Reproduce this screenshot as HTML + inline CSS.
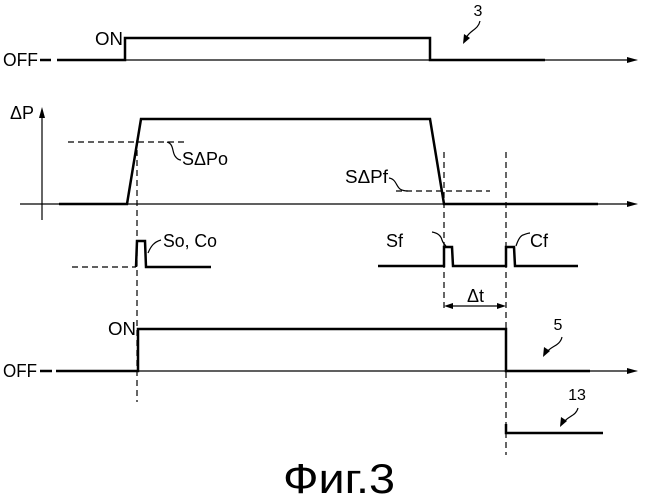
<!DOCTYPE html>
<html><head><meta charset="utf-8"><style>
html,body{margin:0;padding:0;background:#fff;}
svg{display:block;}
text{font-family:"Liberation Sans","DejaVu Sans",sans-serif;fill:#000;}
</style></head><body>
<svg width="646" height="500" viewBox="0 0 646 500" xmlns="http://www.w3.org/2000/svg">
<g fill="none" stroke="#000" stroke-linecap="butt" stroke-linejoin="miter">
<!-- Top signal 3 -->
<line x1="40" y1="60" x2="51" y2="60" stroke-width="2.5"/>
<polyline points="57,60 125,60 125,38 430,38 430,60 545,60" stroke-width="2.5"/>
<line x1="125" y1="60" x2="632" y2="60" stroke-width="1.2"/>
<!-- Delta P axis -->
<line x1="42" y1="220" x2="42" y2="114" stroke-width="1.2"/>
<line x1="20" y1="204" x2="632" y2="204" stroke-width="1.2"/>
<polyline points="59,204 127,204 141,119 430,119 444,204 598,204" stroke-width="2.5"/>
<!-- thresholds -->
<line x1="68" y1="142" x2="186" y2="142" stroke-width="1.2" stroke-dasharray="6,4"/>
<line x1="396" y1="191" x2="490" y2="191" stroke-width="1.2" stroke-dasharray="6,4"/>
<path d="M167,142 C174,144 172,152 175,156 C177,159 179,160 181,160" stroke-width="1.2"/>
<path d="M389,178 C396,179 396,186 400,189 C403,191 406,191 408,191" stroke-width="1.2"/>
<!-- vertical dashed -->
<line x1="137" y1="140" x2="137" y2="402" stroke-width="1.2" stroke-dasharray="6,4"/>
<line x1="444" y1="152" x2="444" y2="310" stroke-width="1.2" stroke-dasharray="6,4"/>
<line x1="506" y1="152" x2="506" y2="455" stroke-width="1.2" stroke-dasharray="6,4"/>
<!-- pulses -->
<line x1="72" y1="267" x2="136" y2="267" stroke-width="1.2" stroke-dasharray="6,4"/>
<polyline points="136,267 137,241 145,241 146,267 211,267" stroke-width="2.5"/>
<path d="M148,253 C151,246 154,242 161,240" stroke-width="1.2"/>
<polyline points="378,266 444,266 444,247 452,247 453,266 506,266 506,247 514,247 515,266 578,266" stroke-width="2.5"/>
<path d="M432,232 C438,233 441,236 442,240 C443,243 445,245 446,246" stroke-width="1.2"/>
<path d="M516,246 C518,240 520,236 523,235 C526,234 528,233 530,233" stroke-width="1.2"/>
<!-- delta t -->
<line x1="450" y1="306" x2="500" y2="306" stroke-width="1.3"/>
<!-- bottom signal 5 -->
<line x1="40" y1="371" x2="52" y2="371" stroke-width="2.5"/>
<polyline points="56,371 138,371 138,329 506,329 506,371 590,371" stroke-width="2.5"/>
<line x1="138" y1="371" x2="632" y2="371" stroke-width="1.2"/>
<!-- 13 -->
<polyline points="506,424 506,433 603,433" stroke-width="2.5"/>
<!-- label arrows -->
<path d="M480,21 C478,30 470,30 466,38" stroke-width="1.2"/>
<path d="M562,337 C560,346 551,346 547,352" stroke-width="1.2"/>
<path d="M578,408 C576,416 568,416 564,422" stroke-width="1.2"/>
</g>
<g fill="#000" stroke="none">
<polygon points="638,60 627,57 627,63"/>
<polygon points="638,204 627,201 627,207"/>
<polygon points="638,371 627,368 627,374"/>
<polygon points="42,107 39,118 45,118"/>
<polygon points="444,306 453,303 453,309"/>
<polygon points="506,306 497,303 497,309"/>
<polygon points="463,44 464,34 470,38"/>
<polygon points="543,357 544,347 550,351"/>
<polygon points="560,427 561,417 567,421"/>
</g>
<g font-size="18">
<text x="3" y="66" textLength="35" lengthAdjust="spacingAndGlyphs">OFF</text>
<text x="95" y="45" textLength="28" lengthAdjust="spacingAndGlyphs">ON</text>
<text x="478" y="16" text-anchor="middle" font-size="16">3</text>
<text x="10" y="119">ΔP</text>
<text x="182" y="165" textLength="46" lengthAdjust="spacingAndGlyphs">SΔPo</text>
<text x="345" y="183" textLength="43" lengthAdjust="spacingAndGlyphs">SΔPf</text>
<text x="163" y="247" textLength="54" lengthAdjust="spacingAndGlyphs">So, Co</text>
<text x="386" y="247">Sf</text>
<text x="530" y="247">Cf</text>
<text x="467" y="302">Δt</text>
<text x="108" y="335" textLength="28" lengthAdjust="spacingAndGlyphs">ON</text>
<text x="3" y="377" textLength="34" lengthAdjust="spacingAndGlyphs">OFF</text>
<text x="558" y="330" text-anchor="middle" font-size="16">5</text>
<text x="577" y="400" text-anchor="middle" font-size="16">13</text>
</g>
<text x="283" y="493" font-size="42" textLength="112" lengthAdjust="spacingAndGlyphs">Фиг.3</text>
</svg>
</body></html>
